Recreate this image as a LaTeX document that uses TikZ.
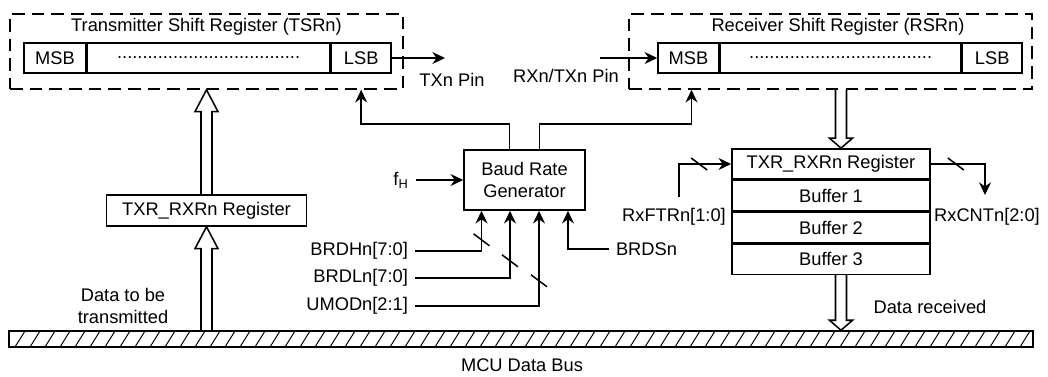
\documentclass[tikz,border=0pt]{standalone}
\usepackage{fontspec}
\setmainfont{Liberation Sans}
\usetikzlibrary{arrows.meta,positioning,calc}
\definecolor{ink}{HTML}{000000}
\tikzset{
  box/.style={draw=ink,line width=1.1pt,fill=white,align=center,text=ink,inner sep=0pt},
  shiftreg/.style={draw=ink,line width=1.1pt,dash pattern=on 9pt off 5pt,inner sep=0pt},
  sig/.style={-{Stealth[length=9pt,width=8.5pt]},line width=1.1pt,draw=ink},
  fat/.style={line width=1.1pt,draw=ink},
  lbl/.style={text=ink,inner sep=1pt,outer sep=4pt,align=center},
}
% hollow bus arrow: from, tip, head length
\newcommand{\fatarrow}[3]{%
  \coordinate (fab) at ($(#2)!#3!(#1)$);
  \draw[fat] ($(#1)!3.9pt!90:(#2)$) -- ($(fab)!3.9pt!90:(#2)$) -- ($(fab)!8.2pt!90:(#2)$)
    -- (#2) -- ($(fab)!8.2pt!-90:(#2)$) -- ($(fab)!3.9pt!-90:(#2)$) -- ($(#1)!3.9pt!-90:(#2)$);
}
% width mark across a signal line
\newcommand{\busslash}[1]{\draw[line width=1.1pt,draw=ink] ($#1+(-8,-6)$) -- ($#1+(8,6)$);}

\begin{document}
\begin{tikzpicture}[x=0.025cm,y=-0.025cm,font=\fontsize{13}{16}\selectfont]
  \useasboundingbox (0,0) rectangle (1048,376);

  % ---------------------------------------------------------------- transmitter
  \node[shiftreg,minimum width=9.825cm,minimum height=1.875cm] (tsr) at (206.5,51.5) {};
  \node[lbl] (tsrt) at (206.5,27) {Transmitter Shift Register (TSRn)};
  \node[box,minimum width=1.55cm,minimum height=0.75cm] (msbT) at (55,58) {MSB};
  \node[box,minimum width=6.05cm,minimum height=0.75cm,right=0pt of msbT] (midT)
       {....................................};
  \node[box,minimum width=1.5cm,minimum height=0.75cm,right=0pt of midT] (lsbT) {LSB};
  \node[box,minimum width=5cm,minimum height=0.775cm] (txrl) at (206.5,210.5) {TXR\_RXRn Register};

  % ---------------------------------------------------------------- receiver
  \node[shiftreg,minimum width=10.075cm,minimum height=1.875cm] (rsr) at (830.5,51.5) {};
  \node[lbl] (rsrt) at (838,27) {Receiver Shift Register (RSRn)};
  \node[box,minimum width=1.525cm,minimum height=0.75cm] (msbR) at (688.5,58) {MSB};
  \node[box,minimum width=6cm,minimum height=0.75cm,right=0pt of msbR] (midR)
       {....................................};
  \node[box,minimum width=1.5cm,minimum height=0.75cm,right=0pt of midR] (lsbR) {LSB};
  \node[box,minimum width=4.95cm,minimum height=0.755cm] (rxr) at (831,164) {TXR\_RXRn Register};
  \node[box,minimum width=4.95cm,minimum height=0.755cm,below=0pt of rxr] (buf1) {Buffer 1};
  \node[box,minimum width=4.95cm,minimum height=0.755cm,below=0pt of buf1] (buf2) {Buffer 2};
  \node[box,minimum width=4.95cm,minimum height=0.755cm,below=0pt of buf2] (buf3) {Buffer 3};

  % ---------------------------------------------------------------- baud rate generator
  \node[box,minimum width=3.025cm,minimum height=1.5cm] (baud) at (524.5,180) {Baud Rate\\Generator};
  \node[lbl] (fh) at (401,180) {f\textsubscript{H}};
  \node[lbl,anchor=east] (brdh) at (415,251) {BRDHn[7:0]};
  \node[lbl,anchor=east] (brdl) at (415,278) {BRDLn[7:0]};
  \node[lbl,anchor=east] (umod) at (415,306) {UMODn[2:1]};
  \node[lbl,anchor=west] (brds) at (609,249) {BRDSn};

  % ---------------------------------------------------------------- data bus
  \node[draw=ink,line width=1.1pt,minimum width=25.6cm,minimum height=0.4cm,inner sep=0pt] (bus) at (521,339) {};
  \begin{scope}
    \clip (bus.south west) rectangle (bus.north east);
    \foreach \x in {0,15,...,1050}
      \draw[line width=0.7pt,draw=ink] (\x,347) -- (\x+10,331);
  \end{scope}
  \node[lbl] (buslbl) at (522,365) {MCU Data Bus};
  \node[lbl] (txdata) at (123,306) {Data to be\\transmitted};
  \node[lbl] (rxdata) at (930,307) {Data received};

  % ---------------------------------------------------------------- pins
  \coordinate (txpin) at (445,58);
  \coordinate (rxpin) at (600,58);
  \draw[sig] (lsbT) -- (txpin);
  \draw[sig] (rxpin) -- (msbR);
  \node[lbl] (txlbl) at (452,80) {TXn Pin};
  \node[lbl] (rxlbl) at (566,76) {RXn/TXn Pin};

  % clock out to both shift registers
  \draw[sig] ($(baud.north)+(-15,0)$) -- ++(0,-25) -| (lsbT |- tsr.south);
  \draw[sig] ($(baud.north)+(15,0)$) -- ++(0,-25) -| ($(msbR |- rsr.south)+(3,0)$);

  % control inputs
  \draw[sig] (fh.east |- baud.west) -- (baud.west);
  \draw[sig] (brdh) -| ($(baud.south)+(-43,0)$);
  \draw[sig] (brdl) -| ($(baud.south)+(-14.5,0)$);
  \draw[sig] (umod) -| ($(baud.south)+(14.5,0)$);
  \draw[sig] (brds) -| ($(baud.south)+(43.5,0)$);
  \busslash{($(baud.south)+(-43,29)$)}
  \busslash{($(baud.south)+(-14.5,50)$)}
  \busslash{($(baud.south)+(14.5,70)$)}

  % receive buffer status
  \node[lbl] (ftr) at (674,217) {RxFTRn[1:0]};
  \node[lbl] (cnt) at (987,217) {RxCNTn[2:0]};
  \coordinate (ftrin) at (679,197);
  \coordinate (cntout) at (985,195);
  \draw[sig] (ftrin) |- (rxr.west);
  \draw[sig] (rxr.east) -| (cntout);
  \busslash{($(rxr.west)+(-32,0)$)}
  \busslash{($(rxr.east)+(25,0)$)}

  % ---------------------------------------------------------------- data paths
  \fatarrow{bus.north -| txrl}{txrl.south}{15.6pt}
  \fatarrow{txrl.north}{tsr.south}{15.6pt}
  \coordinate (rxtap) at ($(rsr.south)+(10.5,0)$);
  \fatarrow{rxtap}{rxtap |- rxr.north}{7.1pt}
  \fatarrow{buf3.south -| rxtap}{bus.north -| rxtap}{7.1pt}
\end{tikzpicture}
\end{document}
